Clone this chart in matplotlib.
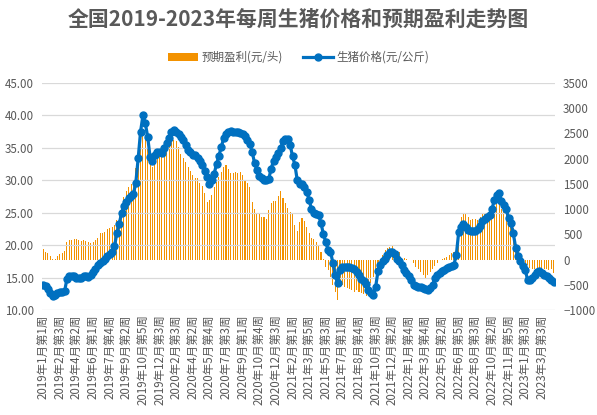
import numpy as np
import matplotlib
matplotlib.use("Agg")
import matplotlib.pyplot as plt
from matplotlib.ticker import FormatStrFormatter, MultipleLocator

plt.rcParams['font.family'] = ['Noto Sans CJK SC', 'DejaVu Sans']

# weekly pig price (yuan/kg), 2019 wk1 .. 2023 Mar
price = [
    13.9, 13.7, 13.2, 12.6, 12.2, 12.3, 12.6, 12.7, 12.8, 12.9,
    14.8, 15.2, 15.3, 15.3, 15.0, 14.9, 15.0, 15.2, 15.3, 15.1,
    15.4, 15.9, 16.3, 16.9, 17.2, 17.5, 17.9, 18.4, 18.6, 19.0,
    19.8, 21.8, 23.3, 24.9, 26.0, 26.6, 27.2, 27.6, 27.9, 29.6,
    33.4, 37.5, 40.0, 38.8, 36.7, 33.6, 32.9, 33.9, 34.4, 34.3,
    34.2, 35.0, 35.7, 36.5, 37.5, 37.8, 37.5, 37.2, 36.7, 36.2,
    35.4, 34.7, 34.3, 33.9, 33.9, 33.4, 32.9, 32.3, 31.5, 30.5,
    29.5, 30.0, 31.0, 32.5, 33.8, 35.1, 36.5, 37.2, 37.5, 37.6,
    37.5, 37.5, 37.4, 37.3, 37.2, 36.8, 36.2, 35.6, 34.4, 32.7,
    31.6, 30.6, 30.3, 30.1, 30.0, 30.2, 31.8, 33.0, 33.6, 34.2,
    35.0, 36.0, 36.4, 36.3, 35.5, 33.7, 32.4, 30.0, 29.5, 29.4,
    28.9, 28.2, 27.0, 25.5, 25.0, 24.8, 24.6, 23.4, 21.7, 20.5,
    19.3, 19.0, 17.3, 15.4, 14.1, 16.2, 16.6, 16.7, 16.7, 16.6,
    16.5, 16.3, 15.8, 15.4, 14.8, 14.4, 14.0, 13.1, 12.6, 12.3,
    13.5, 16.0, 17.0, 17.6, 17.8, 18.5, 18.9, 19.0, 18.6, 17.9,
    17.5, 17.0, 16.2, 15.7, 15.2, 14.6, 13.9, 13.7, 13.6, 13.5,
    13.4, 13.2, 13.1, 13.4, 13.8, 15.0, 15.4, 15.7, 16.0, 16.2,
    16.5, 16.7, 16.8, 17.0, 18.5, 22.0, 22.8, 23.2, 22.8, 22.3,
    22.2, 22.2, 22.2, 22.5, 22.9, 23.7, 24.0, 24.3, 24.6, 25.5,
    27.0, 27.8, 28.1, 26.8, 26.2, 25.5, 24.2, 23.4, 21.8, 19.6,
    18.3, 17.5, 16.8, 16.2, 14.7, 14.6, 14.9, 15.4, 15.8, 16.0,
    15.7, 15.4, 15.2, 14.9, 14.6, 14.3,
]

# expected profit per head (yuan)
profit = [
    205, 159, 139, 79, 13, 13, 73, 106, 139, 165,
    357, 390, 390, 410, 410, 397, 377, 390, 377, 350,
    337, 357, 390, 436, 529, 529, 555, 608, 621, 641,
    687, 787, 906, 1104, 1249, 1362, 1448, 1494, 1534, 1811,
    2043, 2274, 2472, 2373, 2208, 1910, 1844, 1877, 2076, 2155,
    2208, 2221, 2241, 2287, 2340, 2373, 2353, 2241, 2089, 2010,
    1943, 1844, 1758, 1679, 1613, 1613, 1514, 1467, 1315, 1150,
    1183, 1282, 1448, 1534, 1646, 1745, 1844, 1877, 1798, 1725,
    1725, 1745, 1725, 1732, 1679, 1560, 1514, 1448, 1150, 1005,
    899, 899, 853, 853, 806, 985, 1117, 1163, 1163, 1269,
    1362, 1216, 1117, 1018, 952, 919, 687, 568, 740, 820,
    767, 654, 522, 436, 410, 357, 278, 159, 13, -139,
    -205, -337, -502, -635, -800, -436, -502, -535, -555, -582,
    -601, -635, -601, -635, -668, -687, -714, -568, -469, -337,
    -205, -106, -20, 100, 192, 238, 258, 278, 172, 159,
    145, 40, 26, 13, -5, -13, -73, -139, -185, -238,
    -304, -357, -304, -238, -185, -119, -73, -7, 13, 40,
    60, 93, 126, 159, 258, 423, 853, 899, 919, 853,
    787, 806, 806, 787, 853, 899, 919, 899, 853, 985,
    1000, 1100, 1150, 1000, 950, 900, 820, 800, 620, 390,
    160, 100, 30, -110, -110, -170, -180, -180, -190, -170,
    -190, -180, -190, -200, -190, -260,
]

# every 7th week is labelled on the axis
tick_labels = [
    '2019年1月第1周', '2019年2月第3周', '2019年4月第2周', '2019年6月第1周',
    '2019年7月第4周', '2019年9月第2周', '2019年10月第5周', '2019年12月第3周',
    '2020年2月第3周', '2020年4月第2周', '2020年5月第4周', '2020年7月第3周',
    '2020年9月第1周', '2020年10月第4周', '2020年12月第3周', '2021年2月第1周',
    '2021年3月第5周', '2021年5月第3周', '2021年7月第1周', '2021年8月第4周',
    '2021年10月第3周', '2021年12月第2周', '2022年1月第4周', '2022年3月第4周',
    '2022年5月第2周', '2022年6月第5周', '2022年8月第3周', '2022年10月第2周',
    '2022年11月第5周', '2023年1月第3周', '2023年3月第3周',
]
label_step = 7

grey = '#595959'
orange = '#F39200'
blue = '#0070C0'

x = np.arange(len(price))

fig = plt.figure(figsize=(5.97, 4.15), dpi=100)
ax2 = fig.add_axes([0.0704, 0.253, 0.859, 0.547])  # bars, right axis
ax = ax2.twinx()                                    # price, left axis
ax.yaxis.tick_left()
ax2.yaxis.tick_right()
ax.yaxis.set_label_position('left')

bars = ax2.bar(x, profit, width=0.45, color=orange, label='预期盈利(元/头)')
line, = ax.plot(x, price, color=blue, lw=2.3, marker='o', ms=5,
                label='生猪价格(元/公斤)')

ax.set_ylim(10, 45)
ax.yaxis.set_major_locator(MultipleLocator(5))
ax.yaxis.set_major_formatter(FormatStrFormatter('%.2f'))
ax2.set_ylim(-1000, 3500)
ax2.yaxis.set_major_locator(MultipleLocator(500))

ax.grid(axis='y', color='#D9D9D9', lw=0.9)
ax.set_axisbelow(True)
ax2.set_xlim(-0.5, len(price) - 0.5)

for a in (ax, ax2):
    for s in a.spines.values():
        s.set_visible(False)
    a.tick_params(axis='both', length=0, colors=grey, labelsize=8.3)

ax2.set_xticks(x[::label_step][:len(tick_labels)])
ax2.set_xticklabels(tick_labels, rotation=90, fontsize=8.3, color=grey)
ax2.tick_params(axis='x', pad=3)
ax.tick_params(axis='y', pad=6)
ax2.tick_params(axis='y', pad=6)

fig.suptitle('全国2019-2023年每周生猪价格和预期盈利走势图', x=0.5, y=0.978,
             fontsize=15, fontweight='bold', color=grey)
fig.legend(handles=[bars, line], loc='center', bbox_to_anchor=(0.5, 0.862),
           ncol=2, frameon=False, fontsize=8.3, labelcolor=grey,
           handlelength=2.6, columnspacing=1.8, handletextpad=0.3)

fig.savefig('out.png', dpi=100)
